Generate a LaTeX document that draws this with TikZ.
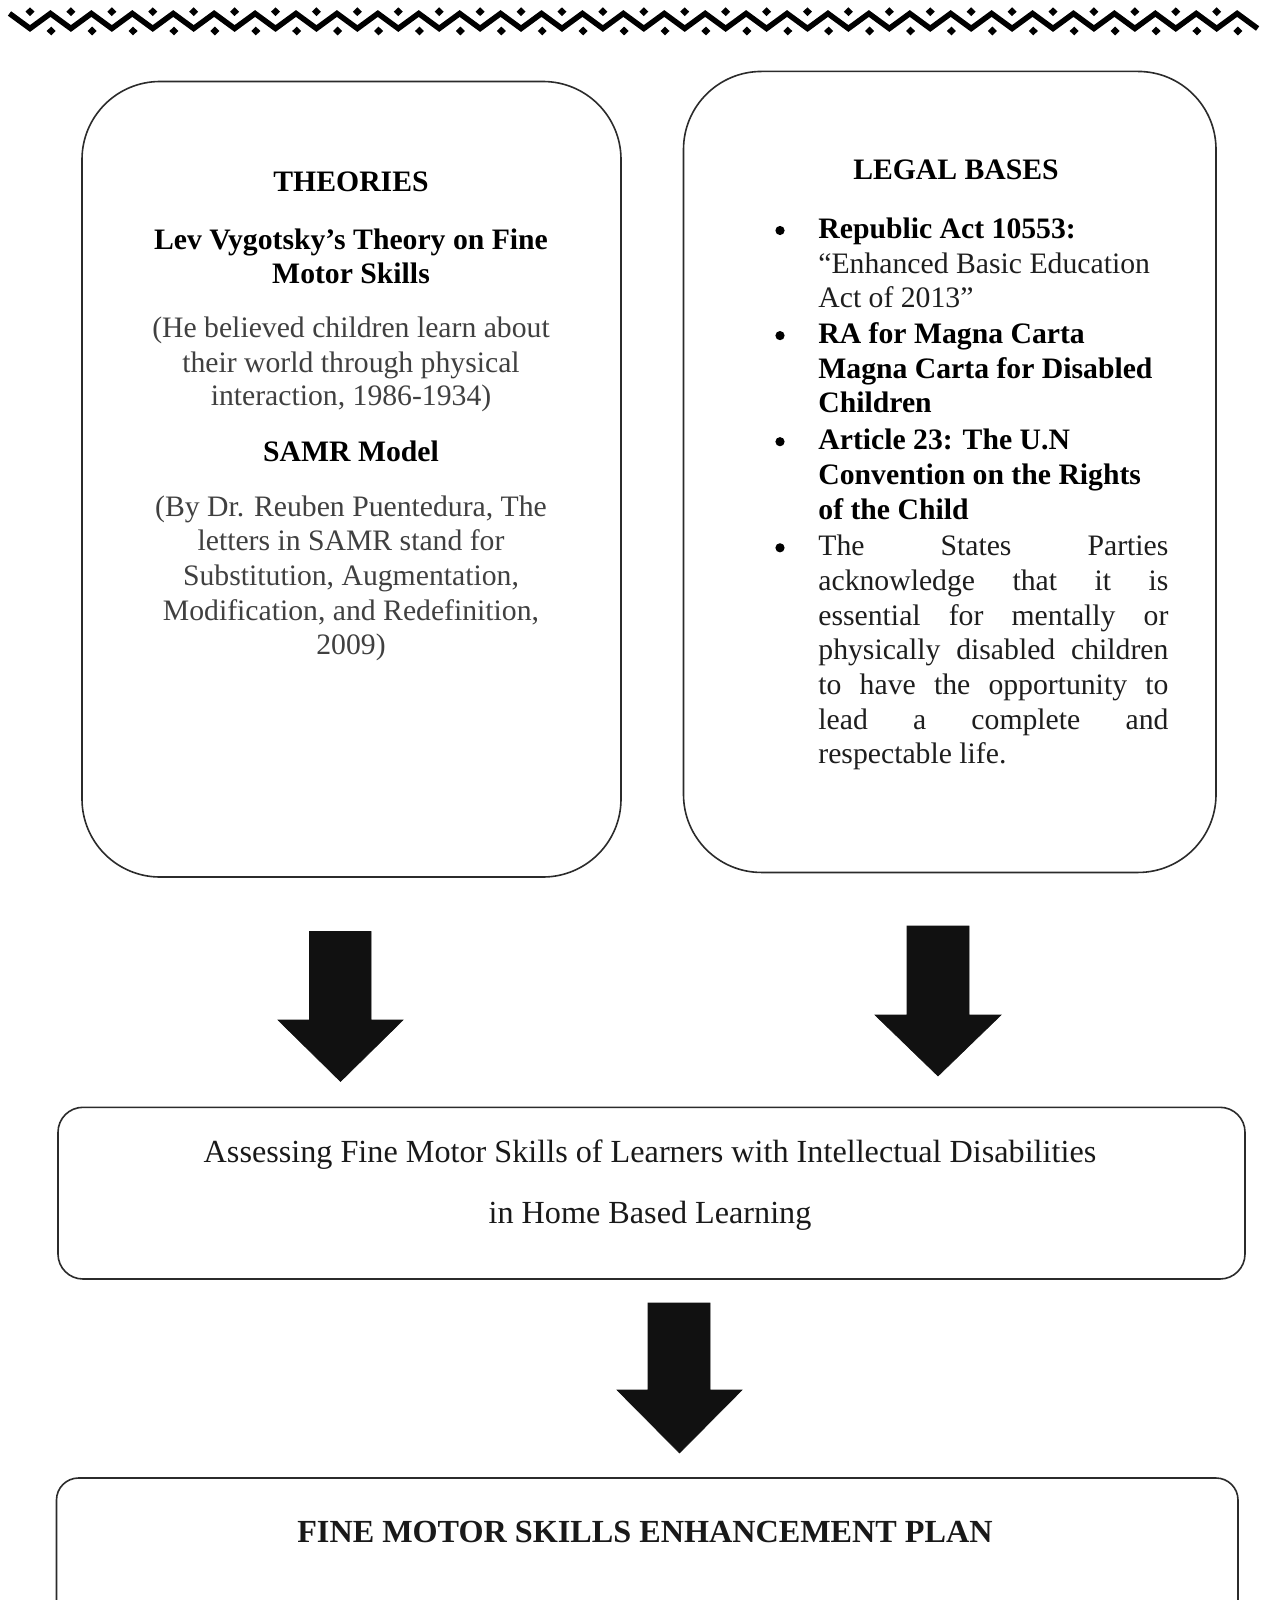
\documentclass[tikz,border=0pt]{standalone}
\usepackage{fontspec}
\setmainfont{Liberation Serif}
\definecolor{ink}{HTML}{111111}
\definecolor{txtgray}{HTML}{404040}
\definecolor{boxline}{HTML}{2B2B2B}
\definecolor{bodytxt}{HTML}{1E1E1E}
\tikzset{
  rbox/.style={draw=boxline, line width=0.8pt, fill=none},
  up/.style={font=\fontsize{14.85pt}{17.35pt}\selectfont, anchor=base, inner sep=0pt, text=bodytxt},
  upb/.style={up, font=\fontsize{14.85pt}{17.35pt}\selectfont\bfseries, text=black},
  upg/.style={up, text=txtgray},
  lft/.style={anchor=base west},
  low/.style={font=\fontsize{16.1pt}{19pt}\selectfont, anchor=base, inner sep=0pt, text=black!90},
  lowb/.style={low, font=\fontsize{16.1pt}{19pt}\selectfont\bfseries},
  bigarrow/.style={fill=ink, draw=ink, line width=0.3pt},
  blt/.style={circle, fill=black, inner sep=0pt, minimum size=4.6pt},
}
\newcommand{\jline}[1]{\makebox[175pt][s]{#1}}
\begin{document}
\begin{tikzpicture}[x=0.5pt,y=-0.5pt]
\useasboundingbox (0,0) rectangle (1268,1600);
\fill[white] (0,0) rectangle (1268,1600);
\begin{scope}
\clip (0,0) rectangle (1268,1600);
% top zigzag border
\draw[black, line width=2.75pt, line join=miter] (9.5,13.5)
  \foreach \k in {0,...,29}{ -- ({30+40.92*\k},28.5) -- ({50.46+40.92*\k},13.5)} -- (1257.6,28.5);
\foreach \k in {0,...,29}{
  \fill[black] ({30+40.92*\k},7.3) -- ({34.5+40.92*\k},11.7) -- ({30+40.92*\k},16.1) -- ({25.5+40.92*\k},11.7) -- cycle;
  \fill[black] ({51.2+40.92*\k},26.6) -- ({55.7+40.92*\k},31) -- ({51.2+40.92*\k},35.4) -- ({46.7+40.92*\k},31) -- cycle;
}

% boxes
\node[rbox, rounded corners=39pt, minimum width=269.5pt, minimum height=397.75pt] (theobox) at (351.5,479.25) {};
\node[rbox, rounded corners=39pt, minimum width=266.25pt, minimum height=400.5pt] (legalbox) at (949.75,471.95) {};
\node[rbox, rounded corners=12.5pt, minimum width=593.5pt, minimum height=85.85pt] (midbox) at (651.5,1193.15) {};
\node[rbox, rounded corners=11pt, minimum width=590.75pt, minimum height=81pt] (planbox) at (647.25,1559) {};

% theories text
\node[upb] (t1) at (351,191.6) {THEORIES};
\node[upb] (t2) at (351,249.7) {Lev Vygotsky’s Theory on Fine};
\node[upb] (t3) at (351,283.4) {Motor Skills};
\node[upg] (t4) at (351,337.5) {(He believed children learn about};
\node[upg] (t5) at (351,372.1) {their world through physical};
\node[upg] (t6) at (351,405.8) {interaction, 1986-1934)};
\node[upb] (t7) at (351,461.9) {SAMR Model};
\node[upg] (t8) at (351,516.0) {(By Dr. Reuben Puentedura, The};
\node[upg] (t9) at (351,550.7) {letters in SAMR stand for};
\node[upg] (t10) at (351,585.3) {Substitution, Augmentation,};
\node[upg] (t11) at (351,620.0) {Modification, and Redefinition,};
\node[upg] (t12) at (351,654.7) {2009)};

% legal bases text
\node[upb] (l0) at (956,179.3) {LEGAL BASES};
\node[blt] (b1) at (780,230.5) {};
\node[upb, lft] (l1) at (818,238.5) {Republic Act 10553:};
\node[up, lft] (l2) at (818,273.2) {“Enhanced Basic Education};
\node[up, lft] (l3) at (818,307.9) {Act of 2013”};
\node[blt] (b2) at (780,335.6) {};
\node[upb, lft] (l4) at (818,343.6) {RA for Magna Carta};
\node[upb, lft] (l5) at (818,378.3) {Magna Carta for Disabled};
\node[upb, lft] (l6) at (818,412.9) {Children};
\node[blt] (b3) at (780,441.7) {};
\node[upb, lft] (l7) at (818,449.7) {Article 23: The U.N};
\node[upb, lft] (l8) at (818,484.3) {Convention on the Rights};
\node[upb, lft] (l9) at (818,519.0) {of the Child};
\node[blt] (b4) at (780,547.8) {};
\node[up, lft] (l10) at (818,555.8) {\jline{The States Parties}};
\node[up, lft] (l11) at (818,590.5) {\jline{acknowledge that it is}};
\node[up, lft] (l12) at (818,625.1) {\jline{essential for mentally or}};
\node[up, lft] (l13) at (818,659.8) {\jline{physically disabled children}};
\node[up, lft] (l14) at (818,694.5) {\jline{to have the opportunity to}};
\node[up, lft] (l15) at (818,729.2) {\jline{lead a complete and}};
\node[up, lft] (l16) at (818,763.9) {respectable life.};

% middle box text
\node[low] (m1) at (650,1162.7) {Assessing Fine Motor Skills of Learners with Intellectual Disabilities};
\node[low] (m2) at (650,1223.9) {in Home Based Learning};

% bottom box text
\node[lowb] (p1) at (645,1542) {FINE MOTOR SKILLS ENHANCEMENT PLAN};

% block arrows
\fill[bigarrow] (309.5,931.5) -- (371,931.5) -- (371,1020) -- (403,1020) -- (340.5,1081.5) -- (278,1020) -- (309.5,1020) -- cycle;
\fill[bigarrow] (907,926) -- (969,926) -- (969,1015) -- (1001,1015) -- (938,1076) -- (875,1015) -- (907,1015) -- cycle;
\fill[bigarrow] (648,1303) -- (710,1303) -- (710,1390) -- (742,1390) -- (679.5,1453) -- (617,1390) -- (648,1390) -- cycle;
\end{scope}
\end{tikzpicture}
\end{document}
